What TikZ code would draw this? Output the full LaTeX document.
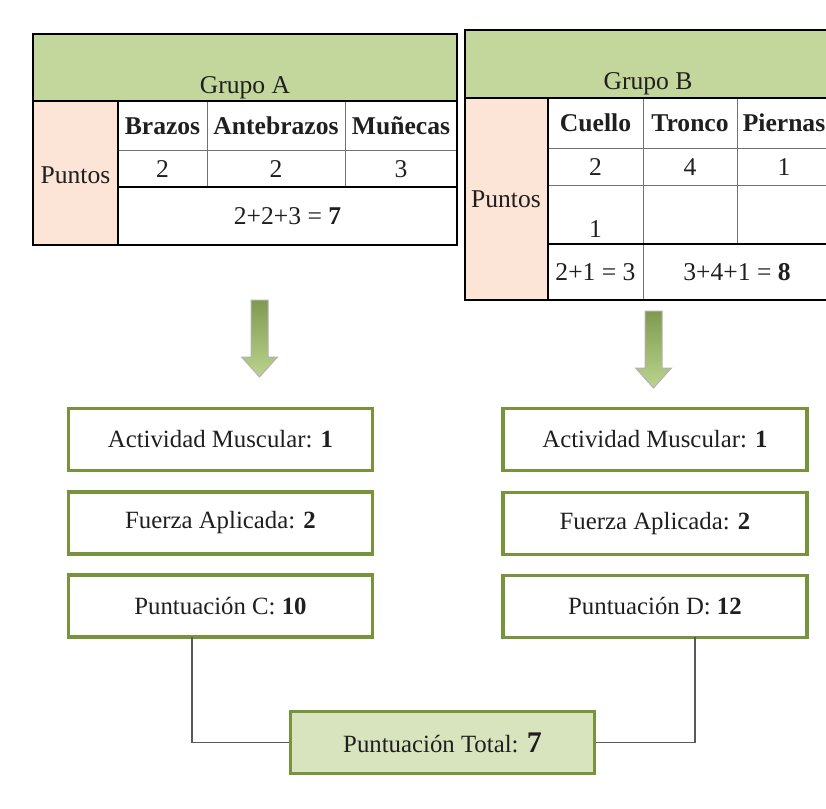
\documentclass[tikz,border=0pt]{standalone}
\usepackage{fontspec}
\setmainfont{Liberation Serif}
\usepackage{tikz}

\definecolor{hdrgreen}{HTML}{C3D69B}
\definecolor{peach}{HTML}{FCE4D6}
\definecolor{boxgreen}{HTML}{77933C}
\definecolor{totalgreen}{HTML}{D7E4BD}
\definecolor{arrowtop}{HTML}{7F9A50}
\definecolor{arrowbottom}{HTML}{BCD48E}

\begin{document}
\begin{tikzpicture}[x=0.5pt, y=-0.5pt,
		every node/.style={font=\fontsize{12.8}{15}\selectfont, text=black!88, inner sep=0pt},
		thickline/.style={line width=1.3pt, black},
		thinline/.style={line width=0.5pt, black!55},
		scorebox/.style={draw=boxgreen, line width=1.6pt, fill=white, minimum width=152pt, minimum height=31pt,
			font=\fontsize{12.4}{15}\selectfont},
		totalbox/.style={scorebox, fill=totalgreen},
		connector/.style={line width=0.8pt, black!65},
		downarrow/.style={draw=black!30, line width=0.5pt, top color=arrowtop, bottom color=arrowbottom}]
		\path[use as bounding box, clip] (0,0) rectangle (826,809);
		
		% Grupo A table
		\filldraw[fill=hdrgreen, draw=none] (33,34) rectangle (457,101);
		\filldraw[fill=peach, draw=none] (33,101) rectangle (118,245);
		\draw[thinline] (207,101) -- (207,187);
		\draw[thinline] (345,101) -- (345,187);
		\draw[thinline] (118,150) -- (457,150);
		\draw[thickline] (33,101) -- (457,101);
		\draw[thickline] (118,101) -- (118,245);
		\draw[thickline] (118,187) -- (457,187);
		\draw[thickline] (33,34) rectangle (457,245);
		
		\node (grupoA) at (245,88) {Grupo A};
		\node (puntosA) at (75.5,175) {Puntos};
		\node[font=\fontsize{12.8}{15}\selectfont\bfseries] (brazos) at (162.5,126) {Brazos};
		\node[font=\fontsize{12.8}{15}\selectfont\bfseries] (antebrazos) at (276,126) {Antebrazos};
		\node[font=\fontsize{12.8}{15}\selectfont\bfseries] (munecas) at (401,126) {Muñecas};
		\foreach \cx/\val/\nm in {162.5/2/a1, 276/2/a2, 401/3/a3}
			\node (\nm) at (\cx,169) {\val};
		\node (sumaA) at (287.5,216) {2+2+3 = \textbf{7}};
		
		% Grupo B table
		\filldraw[fill=hdrgreen, draw=none] (465,30) rectangle (831,98);
		\filldraw[fill=peach, draw=none] (465,98) rectangle (548,300);
		\draw[thinline] (643,98) -- (643,300);
		\draw[thinline] (737,98) -- (737,244);
		\draw[thinline] (548,148) -- (831,148);
		\draw[thinline] (548,185) -- (831,185);
		\draw[thickline] (465,98) -- (831,98);
		\draw[thickline] (548,98) -- (548,300);
		\draw[thickline] (548,244) -- (831,244);
		\draw[thickline] (465,30) rectangle (831,300);
		
		\node (grupoB) at (648,84) {Grupo B};
		\node (puntosB) at (506,199) {Puntos};
		\node[font=\fontsize{12.8}{15}\selectfont\bfseries] (cuello) at (595.5,123) {Cuello};
		\node[font=\fontsize{12.8}{15}\selectfont\bfseries] (tronco) at (690,123) {Tronco};
		\node[font=\fontsize{12.8}{15}\selectfont\bfseries] (piernas) at (784,123) {Piernas};
		\foreach \cx/\val/\nm in {595.5/2/b1, 690/4/b2, 784/1/b3}
			\node (\nm) at (\cx,167) {\val};
		\node (b4) at (595.5,229) {1};
		\node (sumaB1) at (595.5,272) {2+1 = 3};
		\node (sumaB2) at (737,272) {3+4+1 = \textbf{8}};
		
		% Arrows
		\foreach \ax/\ay in {259.5/300, 653.5/311}
			\shadedraw[downarrow] (\ax-8.5,\ay) -- (\ax+8.5,\ay) -- (\ax+8.5,\ay+57) -- (\ax+18,\ay+57)
				-- (\ax,\ay+77) -- (\ax-18,\ay+57) -- (\ax-8.5,\ay+57) -- cycle;
		
		% Score boxes
		\node[scorebox] (actA) at (220.5,439.5) {Actividad Muscular: \textbf{1}};
		\node[scorebox] (fuerzaA) at (220.5,523) {Fuerza Aplicada: \textbf{2}};
		\node[scorebox] (puntC) at (220.5,606) {Puntuación C: \textbf{10}};
		
		\node[scorebox] (actB) at (655,439.5) {Actividad Muscular: \textbf{1}};
		\node[scorebox] (fuerzaB) at (655,523.5) {Fuerza Aplicada: \textbf{2}};
		\node[scorebox] (puntD) at (655,606.5) {Puntuación D: \textbf{12}};
		
		\node[totalbox] (total) at (442.5,742.5) {Puntuación Total: {\fontsize{15}{15}\selectfont\bfseries 7}};
		
		% Connectors
		\coordinate (outC) at (192,637);
		\coordinate (outD) at (695,637);
		\draw[connector] (outC) |- (total.west);
		\draw[connector] (outD) |- (total.east);
	\end{tikzpicture}
\end{document}
